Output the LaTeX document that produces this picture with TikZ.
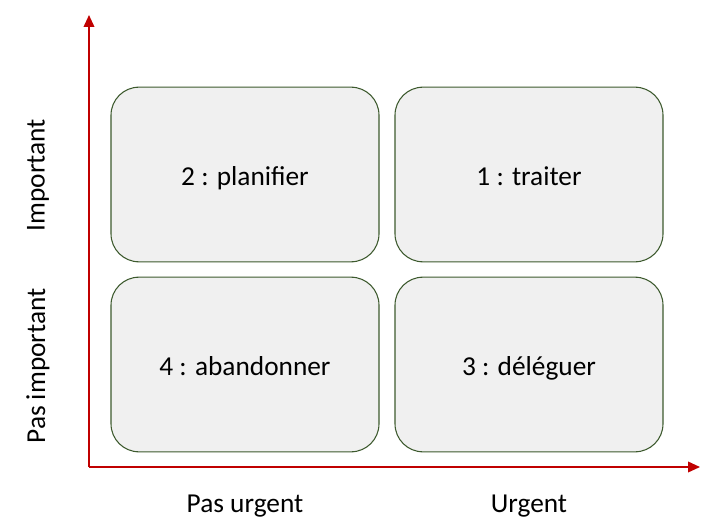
\documentclass[tikz,border=0pt]{standalone}
\usepackage{fontspec}
\setmainfont{Carlito}
\usetikzlibrary{arrows.meta}
\tikzset{>={Triangle[length=9pt,width=8pt]}}
\definecolor{boxfill}{HTML}{F0F0F0}
\definecolor{boxline}{HTML}{3D5A2E}
\definecolor{axisred}{HTML}{C00000}
\tikzset{
    quad/.style={draw=boxline, fill=boxfill, line width=0.8pt, rounded corners=21pt,
        minimum width=201pt, minimum height=131pt, text height=21pt, text depth=5pt,
        font=\fontsize{20.5}{24}\selectfont},
    axis/.style={axisred, line width=1.2pt, ->},
    axislabel/.style={font=\fontsize{20.5}{24}\selectfont}
}

\begin{document}
\begin{tikzpicture}[x=0.75pt, y=-0.75pt]

    \useasboundingbox (0,0) rectangle (728,531);

    \coordinate (origin) at (89,467);
    \coordinate (ytip) at (89,15);
    \coordinate (xtip) at (700,467);

    \draw[axis] (origin) -- (ytip);
    \draw[axis] (origin) -- (xtip);

    \node[quad] (plan) at (245,174.5) {2 : planifier};
    \node[quad] (trait) at (529,174.5) {1 : traiter};
    \node[quad] (aband) at (245,364.5) {4 : abandonner};
    \node[quad] (deleg) at (529,364.5) {3 : déléguer};

    \node[axislabel, anchor=base] (pasurg) at (245,512) {Pas urgent};
    \node[axislabel, anchor=base] (urg) at (529,512) {Urgent};
    \node[axislabel, rotate=90] (imp) at (38,175) {Important};
    \node[axislabel, rotate=90] (pasimp) at (38,366) {Pas important};

\end{tikzpicture}
\end{document}
